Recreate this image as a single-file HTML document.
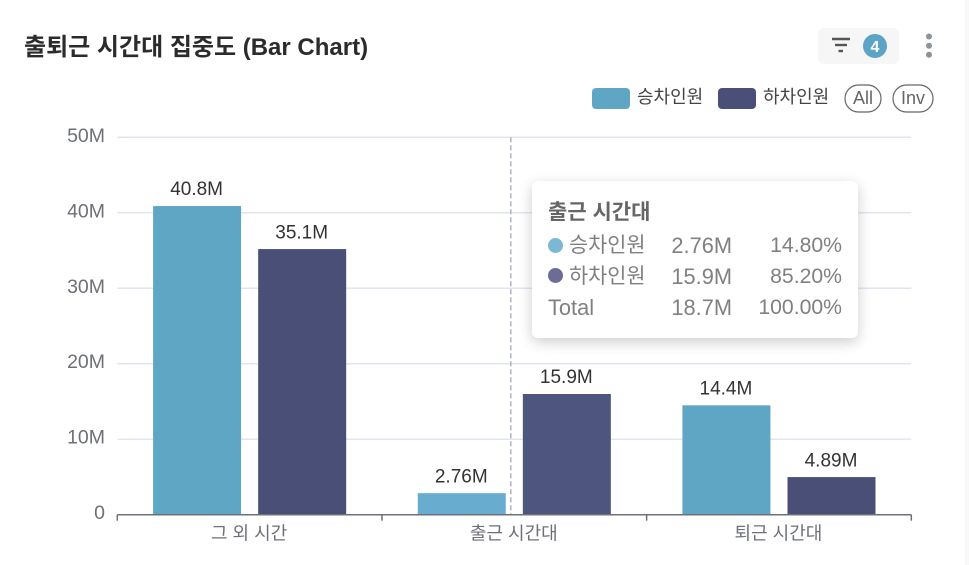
<!DOCTYPE html>
<html lang="ko">
<head>
<meta charset="utf-8">
<style>
html,body{margin:0;padding:0;background:#fff;}
body{width:969px;height:565px;overflow:hidden;position:relative;font-family:"Liberation Sans","Noto Sans CJK KR",sans-serif;}
svg{position:absolute;left:0;top:0;}
text{font-family:"Liberation Sans","Noto Sans CJK KR",sans-serif;}
#tooltip{position:absolute;left:532px;top:181px;width:326px;height:157px;background:#fff;border-radius:6px;box-shadow:0 4px 14px rgba(0,0,0,.2);color:#808080;font-size:21.8px;}
#tooltip div{position:absolute;white-space:nowrap;line-height:24px;}
.dot{width:15px;height:15px;border-radius:50%;}
.v{text-align:right;}
.k{font-size:20.8px;}
.p{font-size:21.2px;}
</style>
</head>
<body>
<svg id="chart" width="969" height="565" viewBox="0 0 969 565"></svg>
<div id="tooltip">
  <div style="left:16px;top:20px;font-weight:700;color:#666;font-size:21px;">출근 시간대</div>
  <div class="dot" style="left:16px;top:57px;background:#7ab8d3;"></div>
  <div class="k" style="left:37px;top:53px;">승차인원</div>
  <div class="v" style="right:126px;top:53px;">2.76M</div>
  <div class="v p" style="right:16px;top:53px;">14.80%</div>
  <div class="dot" style="left:16px;top:87px;background:#6c6d96;"></div>
  <div class="k" style="left:37px;top:84px;">하차인원</div>
  <div class="v" style="right:126px;top:84px;">15.9M</div>
  <div class="v p" style="right:16px;top:84px;">85.20%</div>
  <div style="left:16px;top:115px;">Total</div>
  <div class="v" style="right:126px;top:115px;">18.7M</div>
  <div class="v p" style="right:16px;top:115px;">100.00%</div>
</div>
<script>
const categories = ['그 외 시간', '출근 시간대', '퇴근 시간대'];
const boarding = [40.8, 2.76, 14.4];
const alighting = [35.1, 15.9, 4.89];
const boardingLabels = ['40.8M', '2.76M', '14.4M'];
const alightingLabels = ['35.1M', '15.9M', '4.89M'];
const yTicks = [0, 10, 20, 30, 40, 50];
const yTickLabels = ['0', '10M', '20M', '30M', '40M', '50M'];
const yMax = 50;
const highlightedCategory = 1;

const svg = document.getElementById('chart');
const NS = 'http://www.w3.org/2000/svg';
const left = 117.3, right = 911.3, top_ = 137.3, bottom = 514.7;
const BLUE = '#5fa6c5', NAVY = '#4a4f78';
const yScale = v => bottom - (v / yMax) * (bottom - top_);
const bandWidth = (right - left) / categories.length;
const xCenter = i => left + bandWidth * (i + 0.5);
const barWidth = bandWidth * 0.3325;
const barOffset = bandWidth * 0.1985;
const barRaise = 0.7;

function make(tag, attrs, text) {
  const el = document.createElementNS(NS, tag);
  for (const k in attrs) el.setAttribute(k, attrs[k]);
  if (text !== undefined) el.textContent = text;
  svg.appendChild(el);
  return el;
}

let el;
el = make('rect', {x: 965, y: 0, width: 4, height: 565, fill: '#f8f8f9'});



el = make('text', {x: 24, y: 55, 'font-size': 24, 'font-weight': 700, fill: '#2b2b2b'}, '출퇴근 시간대 집중도 (Bar Chart)');



el = make('rect', {x: 818, y: 28, width: 81, height: 36, rx: 6, fill: '#f6f6f6'});


[[832, 850, 39], [835, 847, 45], [838.5, 843, 51]].forEach(function (b) {
  const s = make('line', {x1: b[0], x2: b[1], y1: b[2], y2: b[2], stroke: '#555', 'stroke-width': 2.4});
  
  
});
el = make('circle', {cx: 875, cy: 46, r: 12, fill: '#5ba4c6'});


el = make('text', {x: 875, y: 52, 'font-size': 16, 'font-weight': 700, fill: '#fff', 'text-anchor': 'middle'}, '4');


[36.5, 45.7, 54.7].forEach(function (cy) {
  const d = make('circle', {cx: 929, cy: cy, r: 3, fill: '#8b9298'});
  
  
});

el = make('rect', {x: 592, y: 88, width: 38, height: 21, rx: 4, fill: BLUE});


el = make('text', {x: 637, y: 103, 'font-size': 18, fill: '#444'}, '승차인원');


el = make('rect', {x: 718, y: 88, width: 38, height: 21, rx: 4, fill: NAVY});


el = make('text', {x: 763, y: 103, 'font-size': 18, fill: '#444'}, '하차인원');


el = make('rect', {x: 845, y: 85, width: 36, height: 27, rx: 13.5, fill: '#fff', stroke: '#666', 'stroke-width': 1.2});


el = make('text', {x: 863, y: 104, 'font-size': 18, fill: '#666', 'text-anchor': 'middle'}, 'All');


el = make('rect', {x: 893, y: 85, width: 40, height: 27, rx: 13.5, fill: '#fff', stroke: '#666', 'stroke-width': 1.2});


el = make('text', {x: 913, y: 104, 'font-size': 18, fill: '#666', 'text-anchor': 'middle'}, 'Inv');



yTicks.forEach(function (t, i) {
  if (t !== 0) {
    const g = make('line', {x1: left, x2: right, y1: yScale(t), y2: yScale(t), stroke: '#e0e6f1', 'stroke-width': 1.5});
    
    
  }
  const l = make('text', {x: 105, y: yScale(t) + 4.5, 'font-size': 19.5, fill: '#6e7079', 'text-anchor': 'end'}, yTickLabels[i]);
  
  
});

el = make('line', {x1: xCenter(highlightedCategory) - 3.5, x2: xCenter(highlightedCategory) - 3.5, y1: top_, y2: bottom, stroke: '#aeb0c6', 'stroke-width': 1.5, 'stroke-dasharray': '5 3'});



categories.forEach(function (c, i) {
  const x1 = xCenter(i) - barOffset - barWidth / 2;
  const x2 = xCenter(i) + barOffset - barWidth / 2;
  const hi = i === highlightedCategory;
  const top1 = yScale(boarding[i]) - barRaise;
  const top2 = yScale(alighting[i]) - barRaise;
  const b1 = make('rect', {x: x1, y: top1, width: barWidth, height: bottom - top1, fill: hi ? '#68add0' : BLUE});
  
  
  const b2 = make('rect', {x: x2, y: top2, width: barWidth, height: bottom - top2, fill: hi ? '#4e567f' : NAVY});
  
  
  const t1 = make('text', {x: x1 + barWidth / 2 - 0.5, y: yScale(boarding[i]) - 11.5, 'font-size': 19, fill: '#333', 'text-anchor': 'middle'}, boardingLabels[i]);
  
  
  const t2 = make('text', {x: x2 + barWidth / 2 - 0.5, y: yScale(alighting[i]) - 11.5, 'font-size': 19, fill: '#333', 'text-anchor': 'middle'}, alightingLabels[i]);
  
  
  const l = make('text', {x: xCenter(i) - 0.5, y: 539.5, 'font-size': 18, fill: '#6e7079', 'text-anchor': 'middle'}, c);
  
  
});

el = make('line', {x1: left, x2: right, y1: bottom, y2: bottom, stroke: '#6e7079', 'stroke-width': 1.5});


for (let i = 0; i <= categories.length; i++) {
  const tx = left + bandWidth * i;
  const tick = make('line', {x1: tx, x2: tx, y1: bottom, y2: bottom + 6, stroke: '#6e7079', 'stroke-width': 1.5});
  
  
}
</script>
</body>
</html>
